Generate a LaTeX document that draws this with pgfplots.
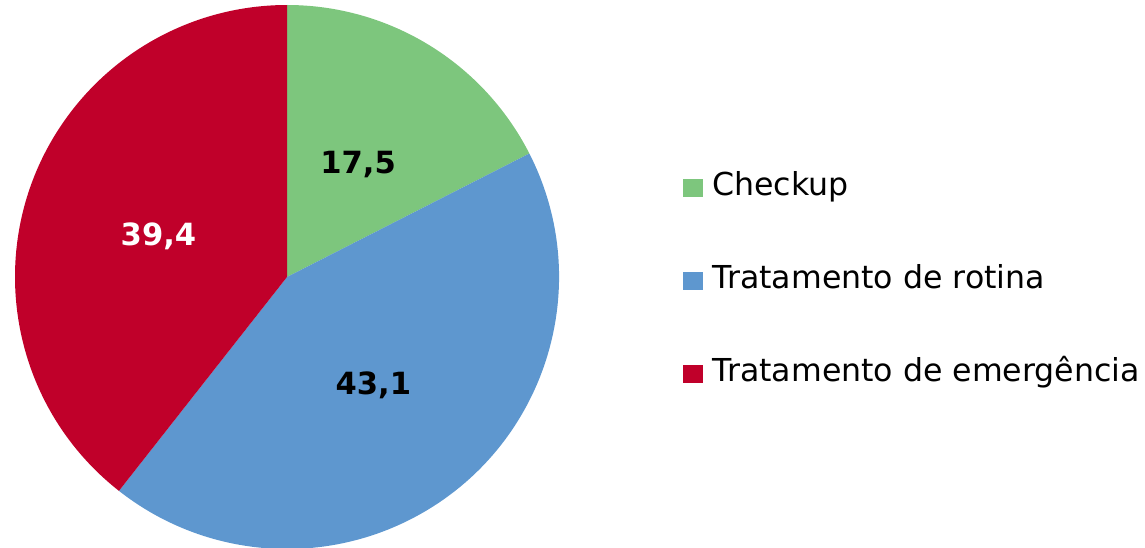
\documentclass[border=0pt]{standalone}
\usepackage{pgfplots}
\pgfplotsset{compat=1.18}
\usepackage{pgfplotstable}
\usepackage{fontspec}
\setmainfont{DejaVu Sans}

\definecolor{cgreen}{RGB}{125,198,125}
\definecolor{cblue}{RGB}{94,151,207}
\definecolor{cred}{RGB}{192,0,42}

% share of each slice (%), slice colour, label colour
\pgfplotstableread{
value color txt
17.5 cgreen black
43.1 cblue black
39.4 cred white
}\piedata

\begin{document}
\begin{tikzpicture}
\begin{axis}[
    hide axis, scale only axis,
    x=0.5pt, y=0.5pt,
    xmin=0, xmax=1145, ymin=-547, ymax=0,
    clip=false,
    legend cell align=left,
    legend image code/.code={\fill[#1, draw=none] (0pt,-4.5pt) rectangle (10pt,4.5pt);},
    legend style={at={(axis cs:683,-281)}, anchor=west, draw=none, fill=none,
      inner sep=0pt, row sep=31.5pt,
      font=\fontsize{15.8}{18}\selectfont,
      nodes={inner sep=0pt, text height=11pt, text depth=4pt},
      /tikz/every odd column/.style={column sep=4.5pt}},
  ]
  \addlegendimage{fill=cgreen, draw=none}
  \addlegendentry{Checkup}
  \addlegendimage{fill=cblue, draw=none}
  \addlegendentry{Tratamento de rotina}
  \addlegendimage{fill=cred, draw=none}
  \addlegendentry{Tratamento de emergência}

  \pgfplotstablegetrowsof{\piedata}
  \pgfmathtruncatemacro\nrows{\pgfplotsretval-1}
  \xdef\startang{90}
  \foreach \i in {0,...,\nrows} {
    \pgfplotstablegetelem{\i}{value}\of\piedata \let\v\pgfplotsretval
    \pgfplotstablegetelem{\i}{color}\of\piedata \let\c\pgfplotsretval
    \pgfplotstablegetelem{\i}{txt}\of\piedata \let\tc\pgfplotsretval
    \pgfmathsetmacro\endang{\startang-3.6*\v}
    \pgfmathsetmacro\midang{(\startang+\endang)/2}
    \edef\temp{\noexpand\fill[\c] (axis cs:287,-277) -- ++(\startang:136pt)
      arc[start angle=\startang, end angle=\endang, radius=136pt] -- cycle;
      \noexpand\path (axis cs:287,-277) ++(\midang:68pt)
      node[yshift=-1.8pt, text=\tc, font=\noexpand\fontsize{15.3}{18}\noexpand\bfseries] {\noexpand\pgfmathprintnumber[assume math mode=true, use comma, fixed, fixed zerofill, precision=1]{\v}};}
    \temp
    \xdef\startang{\endang}
  }
  \coordinate (ll) at (axis cs:0,-547);
  \coordinate (ur) at (axis cs:1145,0);
\end{axis}
\pgfresetboundingbox
\path (ll) rectangle (ur);
\end{tikzpicture}
\end{document}
